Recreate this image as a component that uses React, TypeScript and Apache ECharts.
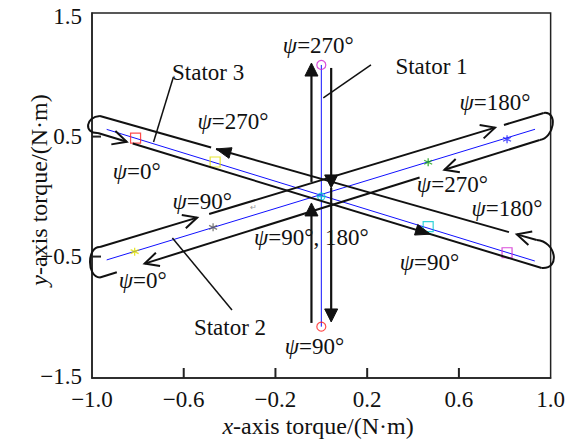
import React, { useEffect, useRef } from 'react';
import * as echarts from 'echarts';

// ---------- axis values ----------
const xLabelValues = [-1.0, -0.6, -0.2, 0.2, 0.6, 1.0];
const xTickValues = [-0.6, -0.2, 0.2, 0.6];
const yLabelValues = [-1.5, -0.5, 0.5, 1.5];
const yTickValues = [-0.5, 0.5];
const X_MIN = -1, X_MAX = 1, Y_MIN = -1.512, Y_MAX = 1.53;

// ---------- stator torque loci (blue lines) ----------
const stator1Line = [[0, 1.097], [0, -1.084]];
const stator2Line = [[-0.936, -0.528], [0.932, 0.561]];
const stator3Line = [[-0.936, 0.56], [0.931, -0.537]];

// ---------- markers ----------
const stator1Points = [[0, 1.097], [0, -1.084], [0, 0]];
const stator1Colors = ['#d020d0', '#ff2020', '#00c0d0'];
const stator1Symbols = ['circle', 'circle', 'cross'];
const stator2Points = [[-0.814, -0.459], [-0.472, -0.256], [0.466, 0.286], [0.81, 0.478]];
const stator2Colors = ['#e0e000', '#606060', '#10a010', '#2020ff'];
const stator3Points = [[-0.81, 0.488], [-0.463, 0.288], [0.466, -0.251], [0.81, -0.468]];
const stator3Colors = ['#ff2020', '#e0e000', '#00c8d0', '#d020d0'];

// ---------- annotation layout (data coordinates) ----------
const loop3 = {
  upper: [[-0.9654, 0.672], [0.9394, -0.362]],
  lower: [[-0.974, 0.53], [0.961, -0.595]],
  leftTip: [-1.017, 0.597],
  rightTip: [1.013, -0.487],
  upperSegs: [[0, 0.2545], [0.2659, 0.9364], [0.9545, 1]],
  lowerSegs: [[0, 0.0649], [0.0783, 1]],
  arrows: [
    { side: 'upper', t: 0.2659, dir: -1, kind: 'filled' },
    { side: 'upper', t: 0.9545, dir: -1, kind: 'open' },
    { side: 'lower', t: 0.0649, dir: 1, kind: 'open' },
    { side: 'lower', t: 0.7494, dir: 1, kind: 'filled' },
  ],
};
const loop2 = {
  upper: [[-0.9654, -0.42], [0.9697, 0.697]],
  lower: [[-0.9654, -0.675], [0.9524, 0.472]],
  leftTip: [-1.0087, -0.545],
  rightTip: [1.0087, 0.597],
  upperSegs: [[0, 0.2192], [0.2461, 0.8904], [0.9105, 1]],
  lowerSegs: [[0, 0.0384], [0.1016, 0.7269], [0.7833, 1]],
  arrows: [
    { side: 'upper', t: 0.2192, dir: 1, kind: 'open' },
    { side: 'upper', t: 0.8904, dir: 1, kind: 'open' },
    { side: 'lower', t: 0.1016, dir: -1, kind: 'open' },
    { side: 'lower', t: 0.7833, dir: -1, kind: 'open' },
  ],
};
const stator1Arrows = [
  { from: [-0.043, -1.053], to: [-0.043, -0.053] },
  { from: [-0.043, 0.122], to: [-0.043, 1.113] },
  { from: [0.043, 1.072], to: [0.043, 0.072] },
  { from: [0.043, 0.072], to: [0.043, -1.045] },
];
const leaders = [
  { from: [0.2165, 1.097], to: [0.0087, 0.822] },
  { from: [-0.645, 0.997], to: [-0.7316, 0.455] },
  { from: [-0.6494, -0.345], to: [-0.3896, -0.945] },
];
const statorLabels = [
  { text: 'Stator 1', at: [0.4805, 1.088] },
  { text: 'Stator 3', at: [-0.4935, 1.038] },
  { text: 'Stator 2', at: [-0.3983, -1.087] },
];
const psiLabels = [
  { text: '270°', at: [-0.013, 1.255] },
  { text: '180°', at: [0.7576, 0.78] },
  { text: '270°', at: [0.5714, 0.1] },
  { text: '180°', at: [0.8095, -0.1] },
  { text: '90°', at: [0.4719, -0.553] },
  { text: '90°, 180°', at: [-0.0433, -0.337] },
  { text: '90°', at: [-0.0303, -1.253] },
  { text: '270°', at: [-0.3853, 0.622] },
  { text: '0°', at: [-0.8052, 0.213] },
  { text: '90°', at: [-0.5195, -0.045] },
  { text: '0°', at: [-0.7792, -0.703] },
];

const FONT = 'Liberation Serif';
const INK = '#111';
const FS = 23;

const fmt = (v: number) => (v < 0 ? '\u2212' : '') + Math.abs(v).toFixed(1);

const STAR = 'path://M0,-5L0,5M-4.33,-2.5L4.33,2.5M-4.33,2.5L4.33,-2.5';
const CROSSCIRCLE = 'path://M-4,0A4,4 0 1,0 4,0A4,4 0 1,0 -4,0M-5,0L5,0M0,-5L0,5';

function buildGraphics(chart: any) {
  const P = (p: number[]) => chart.convertToPixel({ gridIndex: 0 }, p) as number[];
  const els: any[] = [];
  const line = (a: number[], b: number[], w = 2, color = INK) =>
    els.push({ type: 'line', z: 10, shape: { x1: a[0], y1: a[1], x2: b[0], y2: b[1] }, style: { stroke: color, lineWidth: w } });
  const lerp = (a: number[], b: number[], t: number) => [a[0] + (b[0] - a[0]) * t, a[1] + (b[1] - a[1]) * t];
  const unit = (a: number[], b: number[]) => {
    const dx = b[0] - a[0], dy = b[1] - a[1];
    const l = Math.hypot(dx, dy) || 1;
    return [dx / l, dy / l];
  };
  const filled = (tip: number[], d: number[], L: number, hw: number) => {
    const n = [-d[1], d[0]];
    const b = [tip[0] - d[0] * L, tip[1] - d[1] * L];
    els.push({
      type: 'polygon', z: 11,
      shape: { points: [tip, [b[0] + n[0] * hw, b[1] + n[1] * hw], [b[0] - n[0] * hw, b[1] - n[1] * hw]] },
      style: { fill: INK, stroke: INK, lineWidth: 1 },
    });
  };
  const open = (tip: number[], d: number[], L: number, hw: number) => {
    const n = [-d[1], d[0]];
    const b = [tip[0] - d[0] * L, tip[1] - d[1] * L];
    els.push({
      type: 'polyline', z: 11,
      shape: { points: [[b[0] + n[0] * hw, b[1] + n[1] * hw], tip, [b[0] - n[0] * hw, b[1] - n[1] * hw]] },
      style: { stroke: INK, lineWidth: 2, fill: 'none' },
    });
  };
  const cap = (p0: number[], p3: number[], tip: number[]) => {
    const m = [(p0[0] + p3[0]) / 2, (p0[1] + p3[1]) / 2];
    const v = [(tip[0] - m[0]) * 4 / 3, (tip[1] - m[1]) * 4 / 3];
    els.push({
      type: 'bezierCurve', z: 10,
      shape: { x1: p0[0], y1: p0[1], x2: p3[0], y2: p3[1], cpx1: p0[0] + v[0], cpy1: p0[1] + v[1], cpx2: p3[0] + v[0], cpy2: p3[1] + v[1] },
      style: { stroke: INK, lineWidth: 2, fill: 'none' },
    });
  };

  // inward axis ticks (placed through the axis' own scale)
  for (const v of xTickValues) {
    const p = P([v, Y_MIN]);
    line(p, [p[0], p[1] - 10], 2, '#222');
  }
  for (const v of yTickValues) {
    const p = P([X_MIN, v]);
    line(p, [p[0] + 9, p[1]], 2, '#222');
  }

  for (const lp of [loop3, loop2]) {
    const U = lp.upper.map(P), Lw = lp.lower.map(P);
    for (const s of lp.upperSegs) line(lerp(U[0], U[1], s[0]), lerp(U[0], U[1], s[1]));
    for (const s of lp.lowerSegs) line(lerp(Lw[0], Lw[1], s[0]), lerp(Lw[0], Lw[1], s[1]));
    cap(U[0], Lw[0], P(lp.leftTip));
    cap(U[1], Lw[1], P(lp.rightTip));
    for (const a of lp.arrows) {
      const S = a.side === 'upper' ? U : Lw;
      const u = unit(S[0], S[1]);
      const d = [u[0] * a.dir, u[1] * a.dir];
      const tip = lerp(S[0], S[1], a.t);
      if (a.kind === 'filled') filled(tip, d, 15, 5.5);
      else open(tip, d, 14, 7);
    }
  }

  for (const a of stator1Arrows) {
    const f = P(a.from), t = P(a.to);
    const d = unit(f, t);
    line(f, [t[0] - d[0] * 10, t[1] - d[1] * 10], 2.2);
    filled(t, d, 13, 6.5);
  }

  for (const l of leaders) line(P(l.from), P(l.to), 1.5);

  const txt = (x: number, y: number, text: string, size: number, extra: any = {}) => ({
    type: 'text', z: 12, x, y, ...extra,
    style: {
      text, fontSize: size, fontFamily: FONT, fill: INK, align: 'center', verticalAlign: 'middle', lineHeight: size - 4,
      rich: { i: { fontStyle: 'italic', fontSize: size, fontFamily: FONT, fill: INK, lineHeight: size - 4 } },
    },
  });

  for (const s of statorLabels) {
    const p = P(s.at);
    els.push(txt(p[0], p[1], s.text, FS));
  }
  for (const s of psiLabels) {
    const p = P(s.at);
    els.push(txt(p[0], p[1], '{i|ψ}=' + s.text, FS));
  }
  const r = P([-0.2944, -0.095]);
  els.push({ type: 'text', z: 12, x: r[0], y: r[1], style: { text: '↵', fontSize: 8, fill: '#999', align: 'center', verticalAlign: 'middle' } });

  // axis titles
  els.push(txt(318, 426, '{i|x}-axis torque/(N·m)', 24));
  els.push(txt(39, 190, '{i|y}-axis torque/(N·m)', 24, { rotation: Math.PI / 2 }));
  return els;
}

export default function App() {
  const ref = useRef<HTMLDivElement>(null);
  useEffect(() => {
    if (!ref.current) return;
    const chart = echarts.init(ref.current, null, { renderer: 'svg' });
    const blue = { color: '#1010ff', width: 1 };
    const axisLine = { show: true, onZero: false, lineStyle: { color: '#222', width: 1.5 } };
    const option: any = {
      animation: false,
      backgroundColor: '#fff',
      textStyle: { fontFamily: FONT },
      grid: { left: 92, top: 13, width: 462, height: 365, show: true, borderColor: '#222', borderWidth: 1.5, backgroundColor: 'transparent' },
      xAxis: {
        type: 'value', min: X_MIN, max: X_MAX,
        axisLine,
        splitLine: { show: false },
        axisTick: { show: false },
        axisLabel: { customValues: xLabelValues, formatter: fmt, fontSize: FS, fontFamily: FONT, color: INK, margin: 10 },
      },
      yAxis: {
        type: 'value', min: Y_MIN, max: Y_MAX,
        axisLine,
        splitLine: { show: false },
        axisTick: { show: false },
        axisLabel: { customValues: yLabelValues, formatter: fmt, fontSize: FS, fontFamily: FONT, color: INK, margin: 10 },
      },
      series: [
        { name: 'Stator 1', type: 'line', data: stator1Line, symbol: 'none', lineStyle: blue, z: 3 },
        { name: 'Stator 2', type: 'line', data: stator2Line, symbol: 'none', lineStyle: blue, z: 3 },
        { name: 'Stator 3', type: 'line', data: stator3Line, symbol: 'none', lineStyle: blue, z: 3 },
        {
          type: 'scatter', z: 4,
          data: stator1Points.map((p, i) => ({
            value: p,
            symbol: stator1Symbols[i] === 'cross' ? CROSSCIRCLE : 'circle',
            symbolSize: 9,
            itemStyle: { color: 'rgba(0,0,0,0)', borderColor: stator1Colors[i], borderWidth: 1.2 },
          })),
        },
        {
          type: 'scatter', z: 4,
          data: stator2Points.map((p, i) => ({
            value: p, symbol: STAR, symbolSize: 8,
            itemStyle: { color: 'rgba(0,0,0,0)', borderColor: stator2Colors[i], borderWidth: 1.3 },
          })),
        },
        {
          type: 'scatter', z: 4,
          data: stator3Points.map((p, i) => ({
            value: p, symbol: 'rect', symbolSize: 10,
            itemStyle: { color: 'rgba(0,0,0,0)', borderColor: stator3Colors[i], borderWidth: 1.2 },
          })),
        },
      ],
    };
    chart.setOption(option);
    chart.setOption({ graphic: buildGraphics(chart) });
    return () => chart.dispose();
  }, []);
  return <div ref={ref} style={{ position: 'fixed', left: 0, top: 0, width: 568, height: 439 }} />;
}
